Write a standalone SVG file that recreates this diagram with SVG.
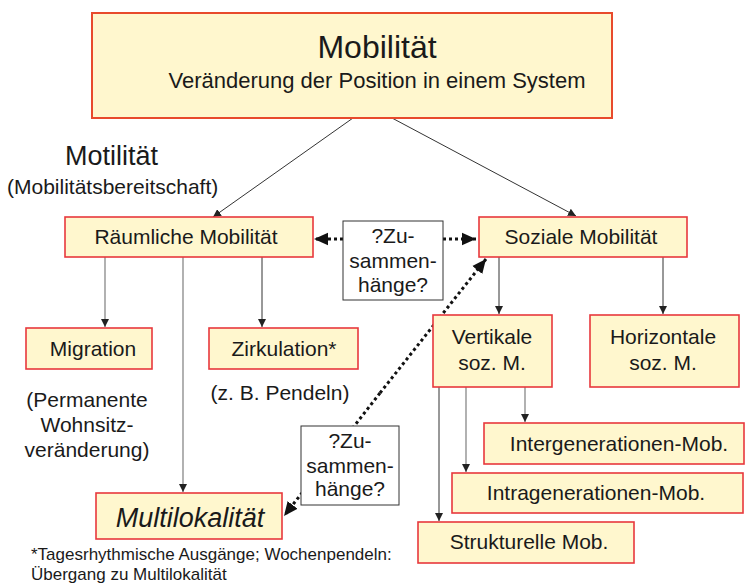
<svg xmlns="http://www.w3.org/2000/svg" width="745" height="585" viewBox="0 0 745 585">
<defs>
<style>
text{font-family:"Liberation Sans",Arial,sans-serif;fill:#1a1a1a}
.box{fill:#FFF7CE;stroke:#E8383D;stroke-width:1.6}
.top{fill:#FFF7CE;stroke:#E84A2C;stroke-width:2}
.q{fill:#fff;stroke:#333;stroke-width:1}
.ln{stroke:#333;stroke-width:1;fill:none}
.lg{stroke:#888;stroke-width:1.3;fill:none}
.dot{stroke:#111;stroke-width:3;stroke-dasharray:3 3;fill:none}
.m{text-anchor:middle;font-size:21px}
</style>
<marker id="a" viewBox="0 0 10 10" refX="10" refY="5" markerWidth="8" markerHeight="8" markerUnits="userSpaceOnUse" orient="auto"><path d="M0,0L10,5L0,10z" fill="#222"/></marker>
<marker id="b" viewBox="0 0 10 10" refX="10" refY="5" markerWidth="14" markerHeight="14" markerUnits="userSpaceOnUse" orient="auto"><path d="M0,0.5L10,5L0,9.5z" fill="#111"/></marker>
</defs>
<g id="connectors">
<line class="ln" x1="353" y1="118" x2="213" y2="217" marker-end="url(#a)"/>
<line class="ln" x1="392" y1="118" x2="576" y2="216" marker-end="url(#a)"/>
<line class="lg" x1="105" y1="257" x2="105" y2="327" marker-end="url(#a)"/>
<line class="lg" x1="183" y1="257" x2="183" y2="492" marker-end="url(#a)"/>
<line class="ln" x1="262" y1="257" x2="262" y2="327" marker-end="url(#a)"/>
<line class="ln" x1="499" y1="257" x2="499" y2="314" marker-end="url(#a)"/>
<line class="ln" x1="663" y1="257" x2="663" y2="314" marker-end="url(#a)"/>
<line class="ln" x1="439" y1="387" x2="439" y2="521" marker-end="url(#a)"/>
<line class="lg" x1="466" y1="387" x2="466" y2="472" marker-end="url(#a)"/>
<line class="lg" x1="525" y1="387" x2="525" y2="422" marker-end="url(#a)"/>
<line class="dot" x1="343" y1="239" x2="314" y2="239" marker-end="url(#b)"/>
<line class="dot" x1="443" y1="239" x2="476" y2="239" marker-end="url(#b)"/>
<line class="dot" x1="380" y1="393" x2="486" y2="259" marker-end="url(#b)"/>
<line class="dot" x1="380" y1="393" x2="284" y2="516" marker-end="url(#b)"/>
</g>
<g id="mobilitaet">
<rect class="top" x="92" y="13" width="520" height="105"/>
<text x="377" y="58" text-anchor="middle" font-size="32">Mobilität</text>
<text x="377" y="88" text-anchor="middle" font-size="22">Veränderung der Position in einem System</text>
</g>
<g id="motilitaet">
<text x="65" y="165" font-size="27">Motilität</text>
<text x="7" y="194" font-size="21">(Mobilitätsbereitschaft)</text>
</g>
<g id="raeumliche">
<rect class="box" x="65" y="217" width="248" height="40"/>
<text class="m" x="186" y="244">Räumliche Mobilität</text>
</g>
<g id="zusammen1">
<rect class="q" x="343" y="221" width="100" height="79"/>
<text class="m" x="393" y="243">?Zu-</text>
<text class="m" x="393" y="268">sammen-</text>
<text class="m" x="393" y="292">hänge?</text>
</g>
<g id="soziale">
<rect class="box" x="479" y="217" width="208" height="40"/>
<text class="m" x="581" y="244">Soziale Mobilität</text>
</g>
<g id="migration">
<rect class="box" x="26" y="328" width="126" height="41"/>
<text class="m" x="93" y="356">Migration</text>
<text class="m" x="87" y="407">(Permanente</text>
<text class="m" x="87" y="432">Wohnsitz-</text>
<text class="m" x="87" y="457">veränderung)</text>
</g>
<g id="zirkulation">
<rect class="box" x="209" y="328" width="149" height="41"/>
<text class="m" x="284" y="356">Zirkulation*</text>
<text class="m" x="280" y="400">(z. B. Pendeln)</text>
</g>
<g id="vertikale">
<rect class="box" x="433" y="315" width="119" height="72"/>
<text class="m" x="492" y="344">Vertikale</text>
<text class="m" x="492" y="370">soz. M.</text>
</g>
<g id="horizontale">
<rect class="box" x="590" y="315" width="149" height="72"/>
<text class="m" x="663" y="344">Horizontale</text>
<text class="m" x="663" y="370">soz. M.</text>
</g>
<g id="zusammen2">
<rect class="q" x="301" y="426" width="98" height="79"/>
<text class="m" x="350" y="448">?Zu-</text>
<text class="m" x="350" y="473">sammen-</text>
<text class="m" x="350" y="496">hänge?</text>
</g>
<g id="multilokalitaet">
<rect class="box" x="96" y="493" width="186" height="46"/>
<text x="190" y="527" text-anchor="middle" font-size="27" font-style="italic">Multilokalität</text>
</g>
<g id="inter">
<rect class="box" x="484" y="423" width="260" height="41"/>
<text class="m" x="619" y="451">Intergenerationen-Mob.</text>
</g>
<g id="intra">
<rect class="box" x="452" y="473" width="291" height="40"/>
<text class="m" x="596" y="500">Intragenerationen-Mob.</text>
</g>
<g id="strukturelle">
<rect class="box" x="418" y="522" width="216" height="41"/>
<text class="m" x="529" y="549">Strukturelle Mob.</text>
</g>
<g id="footnote">
<text x="31" y="560" font-size="17">*Tagesrhythmische Ausgänge; Wochenpendeln:</text>
<text x="31" y="580" font-size="17">Übergang zu Multilokalität</text>
</g>
</svg>
